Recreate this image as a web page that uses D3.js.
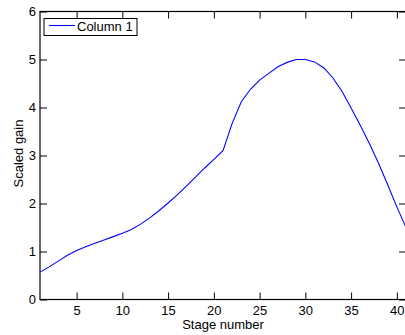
<!DOCTYPE html>
<html>
<head>
<meta charset="utf-8">
<script src="https://cdn.jsdelivr.net/npm/d3@7"></script>
<style>
  html, body { margin: 0; padding: 0; background: #fff; }
  svg { display: block; font-family: "Liberation Sans", Arial, sans-serif; }
  .axis text { font-size: 13px; fill: #000; }
  .axis line { stroke: #000; }
</style>
</head>
<body>
<svg id="chart" width="405" height="335"></svg>
<script>
// stage numbers and gain
const stages = d3.range(1, 42);
const gain = [
    0.57, 0.68, 0.80, 0.92, 1.02, 1.10, 1.17, 1.24, 1.31, 1.38,
    1.46, 1.57, 1.70, 1.85, 2.01, 2.18, 2.36, 2.55, 2.74, 2.92,
    3.10, 3.67, 4.12, 4.38, 4.57, 4.71, 4.85, 4.94, 5.00, 5.00,
    4.95, 4.83, 4.62, 4.34, 3.99, 3.63, 3.25, 2.84, 2.39, 1.93,
    1.50
];
const xTicks = [5, 10, 15, 20, 25, 30, 35, 40];
const yTicks = [0, 1, 2, 3, 4, 5, 6];
const seriesName = 'Column 1';

const svg = d3.select('#chart');
const plotL = 40, plotR = 406, plotT = 11.5, plotB = 299.5;

const x = d3.scaleLinear().domain([1, 41]).range([plotL, plotR]);
const y = d3.scaleLinear().domain([0, 6]).range([plotB, plotT]);

// axes, ticks point inward and are mirrored on top/right
svg.append('g').attr('class', 'axis')
    .attr('transform', `translate(0,${plotB})`)
    .call(d3.axisBottom(x).tickValues(xTicks).tickSize(-7).tickPadding(6).tickFormat(d3.format('d')))
    .call(g => g.select('.domain').remove());
svg.append('g').attr('class', 'axis')
    .attr('transform', `translate(0,${plotT})`)
    .call(d3.axisTop(x).tickValues(xTicks).tickSize(-7).tickFormat(''))
    .call(g => g.select('.domain').remove());
svg.append('g').attr('class', 'axis')
    .attr('transform', `translate(${plotL},0)`)
    .call(d3.axisLeft(y).tickValues(yTicks).tickSize(-7).tickPadding(4).tickFormat(d3.format('d')))
    .call(g => g.select('.domain').remove());
svg.append('g').attr('class', 'axis')
    .attr('transform', `translate(${plotR},0)`)
    .call(d3.axisRight(y).tickValues(yTicks).tickSize(-7).tickFormat(''))
    .call(g => g.select('.domain').remove());

svg.append('rect')
    .attr('x', plotL).attr('y', plotT)
    .attr('width', plotR - plotL).attr('height', plotB - plotT)
    .attr('fill', 'none').attr('stroke', '#000').attr('stroke-width', 1.2);

// the curve
const line = d3.line()
    .x((d, i) => x(stages[i]))
    .y(d => y(d));

svg.append('path')
    .datum(gain)
    .attr('fill', 'none')
    .attr('stroke', '#0000ff')
    .attr('stroke-width', 1.1)
    .attr('d', line);

// axis titles
svg.append('text')
    .attr('x', (plotL + plotR) / 2).attr('y', 328.5)
    .attr('text-anchor', 'middle')
    .style('font-size', '13px')
    .text('Stage number');
svg.append('text')
    .attr('transform', `translate(22.5,${(plotT + plotB) / 2 - 2}) rotate(-90)`)
    .attr('text-anchor', 'middle')
    .style('font-size', '13px')
    .text('Scaled gain');

// legend
const legend = svg.append('g').attr('transform', 'translate(44,18.5)');
legend.append('rect')
    .attr('width', 93).attr('height', 17)
    .attr('fill', '#fff').attr('stroke', '#000').attr('stroke-width', 1);
legend.append('line')
    .attr('x1', 5).attr('x2', 31).attr('y1', 7).attr('y2', 7)
    .attr('stroke', '#0000ff').attr('stroke-width', 1.1);
legend.append('text')
    .attr('x', 33).attr('y', 12.5)
    .style('font-size', '13px')
    .text(seriesName);
</script>
</body>
</html>
